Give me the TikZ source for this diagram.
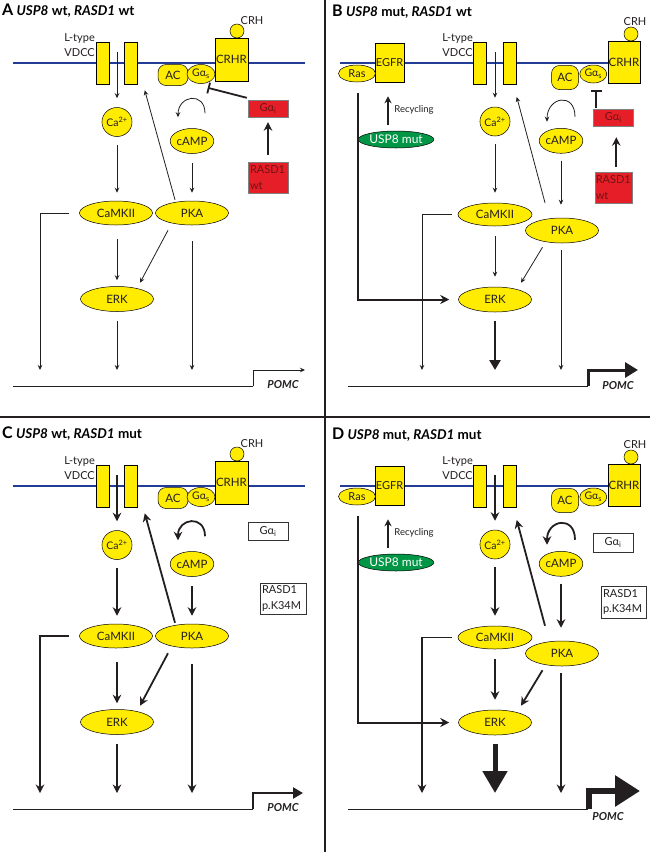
\documentclass[tikz,border=0pt]{standalone}
\usepackage{fontspec}
\setmainfont{Lato}
\usetikzlibrary{shapes.geometric,arrows.meta,calc}
\definecolor{myyellow}{RGB}{255,236,0}
\definecolor{myblue}{RGB}{35,60,150}
\definecolor{myred}{RGB}{230,30,40}
\definecolor{mygreen}{RGB}{0,150,70}
\definecolor{txt}{RGB}{35,31,32}
\definecolor{reddark}{RGB}{110,20,20}
\newcommand{\myfs}[1]{\fontsize{#1}{15.5}\selectfont}
\tikzset{
 lab/.style={text=txt, inner sep=0pt, font=\myfs{11}},
 ttl/.style={anchor=base west, inner sep=0pt, text=black, font=\myfs{13.5}\bfseries},
 ell/.style={ellipse, draw=black, line width=0.5pt, fill=myyellow, inner sep=0pt, text=txt, font=\myfs{11.5}},
 ybox/.style={rectangle, draw=black, line width=0.5pt, fill=myyellow, inner sep=0pt, text=txt, font=\myfs{11.5}},
 acbox/.style={ybox, rounded corners=8pt},
 crhball/.style={circle, draw=black, line width=0.5pt, fill=myyellow, inner sep=0pt, minimum size=14pt},
 redbox/.style={rectangle, draw=black!50, line width=0.4pt, fill=myred, text=reddark, font=\myfs{11}, inner sep=0pt},
 whitebox/.style={rectangle, draw=black!80, line width=0.5pt, fill=white, text=txt, font=\myfs{11}, inner sep=0pt},
 greenell/.style={ellipse, draw=black, line width=0.5pt, fill=mygreen, text=white, font=\myfs{12}, inner sep=0pt},
 membrane/.style={line width=2.6pt, draw=myblue},
 thinA/.style={line width=0.8pt, draw=txt, -{Stealth[length=5pt,width=4.5pt]}},
 thickC/.style={line width=1.8pt, draw=txt, -{Stealth[length=8.5pt,width=8.5pt]}},
 rasln/.style={line width=2pt, draw=txt, -{Stealth[length=9pt,width=9pt]}},
 recyc/.style={line width=1.6pt, draw=txt, -{Stealth[length=7pt,width=7pt]}},
 inhib/.style={line width=1.8pt, draw=txt, -{Bar[width=11pt]}},
 pomc/.style={font=\myfs{11}\bfseries\itshape, text=txt, inner sep=0pt},
 baseln/.style={line width=0.8pt, draw=txt},
}
\newcommand{\panelAC}[2]{%
\node[ttl] at (2,15) {#1};
\draw[membrane] (13,63) -- (305,63);
\node[ybox,minimum width=13,minimum height=42] (vl) at (103,63) {};
\node[ybox,minimum width=13,minimum height=42] (vr) at (131,63) {};
\node[lab,align=right,anchor=east] (vlab) at (95,45) {L-type\\VDCC};
\node[acbox,minimum width=30,minimum height=21] (ac) at (173,75) {AC};
\node[ell,minimum width=28,minimum height=19,font=\myfs{10.5}] (gs) at (201,74) {Gα\textsubscript{s}};
\node[ybox,minimum width=33,minimum height=43] (crhr) at (231.5,59.5) {CRHR};
\node[crhball] (crh) at (237,31) {};
\node[lab] (crhlab) at (252,21) {CRH};
\node[ell,minimum width=23,minimum height=29,font=\myfs{10.5}] (ca) at (117,122) {Ca\textsuperscript{2+}};
\node[ell,minimum width=40,minimum height=25] (camp) at (192,141) {cAMP};
\node[ell,minimum width=73,minimum height=24] (camk) at (116,213) {CaMKII};
\node[ell,minimum width=73,minimum height=24] (pka) at (192,213) {PKA};
\node[ell,minimum width=73,minimum height=25] (erk) at (117,299) {ERK};
\coordinate (p0) at (13,386);
\coordinate (p1) at (253,386);
\coordinate (p2) at (253,370);
\coordinate (q) at (40,370);
\draw[baseln] (p0) -- (p1);
\node[pomc] (pomc) at (283,385) {POMC};
\draw[#2] ($(vl)!0.5!(vr)+(0,-11)$) -- ($(ca.north)+(0,-9)$);
\draw[#2] ($(ca.south)+(0,8)$) -- ($(ca.south |- camk.north)+(0,-8)$);
\draw[#2] ($(pka.north)+(-17,-1)$) -- ($(vr.south east)+(7,6)$);
\draw[#2] ($(camp.south)+(0,9)$) -- ($(pka.north)+(0,-8)$);
\draw[#2] ($(camp.north)+(13,-15)$) .. controls +(0,-22) and +(0,-22) .. ($(camp.north)+(-14,-11)$);
\draw[#2] ($(camk.west)+(-10,0)$) -| (q);
\draw[#2] ($(erk.north |- camk.south)+(0,14)$) -- ($(erk.north)+(0,-6)$);
\draw[#2] ($(pka.south)+(-24,5)$) -- ($(erk.north)+(23,-3.5)$);
\draw[#2] ($(pka.south)+(0,16)$) -- (pka |- p2);
}
\newcommand{\panelBD}[2]{%
\node[ttl] at (332,16) {#1};
\draw[membrane] (340,63) -- (640,63);
\node[ybox,minimum width=29,minimum height=39,font=\myfs{11}] (egfr) at (389.5,62.5) {EGFR};
\node[ell,minimum width=37,minimum height=17,font=\myfs{11}] (ras) at (357,73.5) {Ras};
\node[greenell,minimum width=72,minimum height=17] (usp) at (396,139.5) {USP8 mut};
\node[lab,font=\myfs{9.5}] (rec) at (414,110) {Recycling};
\node[ybox,minimum width=13,minimum height=42] (vl) at (480,63) {};
\node[ybox,minimum width=13,minimum height=42] (vr) at (510,63) {};
\node[lab,align=right,anchor=east] (vlab) at (473,45) {L-type\\VDCC};
\node[acbox,minimum width=27,minimum height=24] (ac) at (565,77.5) {AC};
\node[ell,minimum width=27,minimum height=18,font=\myfs{10.5}] (gs) at (593.3,74) {Gα\textsubscript{s}};
\node[ybox,minimum width=32,minimum height=42] (crhr) at (624,62.5) {CRHR};
\node[crhball] (crh) at (631,34) {};
\node[lab] (crhlab) at (635,22) {CRH};
\node[ell,minimum width=24,minimum height=29,font=\myfs{10.5}] (ca) at (495,121.5) {Ca\textsuperscript{2+}};
\node[ell,minimum width=41,minimum height=25] (camp) at (561,140.8) {cAMP};
\node[ell,minimum width=74,minimum height=23] (camk) at (495,214.5) {CaMKII};
\node[ell,minimum width=73,minimum height=25] (pka) at (562,230.5) {PKA};
\node[ell,minimum width=73,minimum height=25] (erk) at (495,299.5) {ERK};
\coordinate (p0) at (348,386);
\coordinate (p1) at (588,386);
\coordinate (p2) at (588,370);
\coordinate (q) at (422,370);
\draw[baseln] (p0) -- (p1);
\draw[recyc] ($(usp.north)+(-8,-6)$) -- ($(egfr.south)+(-1.5,14)$);
\draw[#2] ($(vl)!0.5!(vr)+(0,-11)$) -- ($(ca.north)+(0,-9)$);
\draw[#2] ($(ca.south)+(0,8)$) -- ($(camk.north)+(0,-10)$);
\draw[#2] ($(pka.north)+(-17,-15)$) -- ($(vr.south east)+(0,12.7)$);
\draw[#2] ($(camp.south)+(0,7)$) -- ($(camp.south |- pka.north)+(0,-13)$);
\draw[#2] ($(camp.north)+(14,-11.3)$) .. controls +(0,-25) and +(0,-25) .. ($(camp.north)+(-14,-6.3)$);
\draw[#2] ($(camk.west)+(-6,0)$) -| (q);
\draw[#2] ($(camk.south)+(0,10)$) -- ($(erk.north)+(0,-10)$);
\draw[#2] ($(pka.south)+(-19.5,4)$) -- ($(erk.north)+(26,-4)$);
\draw[#2] ($(pka.south)+(-1,7)$) -- ($(pka.south |- p2)+(-1,0)$);
\draw[rasln] ($(ras.south)+(1,11)$) |- ($(erk.west)+(-9,0)$);
}
\begin{document}
\begin{tikzpicture}[x=1pt,y=-1pt]
\useasboundingbox (0,0) rectangle (650,852);
\fill[white] (0,0) rectangle (650,852);
% Panel A
\begin{scope}[name prefix=a-]
\panelAC{{\myfs{16}A} \textit{USP8} wt, \textit{RASD1} wt}{thinA}
\node[redbox,minimum width=40,minimum height=17] (gai) at (268,108.5) {Gα\textsubscript{i}};
\node[redbox,minimum height=31,text width=36,inner xsep=2,align=left] (rasd) at (268,177.5) {RASD1\\wt};
\draw[thickC] ($(rasd.north)+(0,-7)$) -- ($(gai.south)+(0,5)$);
\draw[inhib] ($(gai.north west)+(-1,-2)$) -- ($(gai.north west)+(-40,-12)$);
\draw[thinA] ($(erk.south)+(0,9)$) -- (erk |- p2);
\draw[line width=0.8pt, draw=txt, line join=miter, -{Stealth[length=5pt,width=4.5pt]}] (p1) -- (p2) -- ++(52,0);
\end{scope}
% Panel B
\begin{scope}[name prefix=b-]
\panelBD{{\myfs{16}B} \textit{USP8} mut, \textit{RASD1} wt}{thinA}
\node[pomc] (pomc) at (618,386) {POMC};
\node[redbox,minimum width=40,minimum height=17] (gai) at (613.3,117.5) {Gα\textsubscript{i}};
\node[redbox,minimum height=31,text width=35,inner xsep=1,align=left] (rasd) at (613.3,187.8) {RASD1\\wt};
\draw[inhib] ($(gai.north west)+(3,-1)$) -- ($(gai.north west)+(3,-19)$);
\draw[thickC] ($(rasd.north)+(3,-5)$) -- ($(gai.south)+(3,11)$);
\draw[line width=2.4pt, draw=txt, -{Triangle[length=10pt,width=11pt]}] ($(erk.south)+(0,9)$) -- (erk |- p2);
\draw[line width=3pt, draw=txt, line join=miter, -{Triangle[length=13pt,width=15pt]}] (p1) -- (p2) -- ++(50,0);
\end{scope}
% Panel C
\begin{scope}[shift={(0,423)}, name prefix=c-]
\panelAC{{\myfs{16}C} \textit{USP8} wt, \textit{RASD1} mut}{thickC}
\node[whitebox,minimum width=40,minimum height=18] (gai) at (268,108.5) {Gα\textsubscript{i}};
\node[whitebox,minimum height=31,text width=42,inner xsep=2,align=left] (rasd) at (283,175.5) {RASD1\\p.K34M};
\draw[thickC] ($(erk.south)+(0,9)$) -- (erk |- p2);
\draw[line width=2.4pt, draw=txt, line join=miter, -{Triangle[length=10pt,width=11pt]}] (p1) -- (p2) -- ++(50,0);
\end{scope}
% Panel D
\begin{scope}[shift={(0,423)}, name prefix=d-]
\panelBD{{\myfs{16}D} \textit{USP8} mut, \textit{RASD1} mut}{thickC}
\node[pomc] (pomc) at (608,393.5) {POMC};
\node[whitebox,minimum width=40,minimum height=19] (gai) at (613,119.5) {Gα\textsubscript{i}};
\node[whitebox,minimum height=32,text width=41,inner xsep=2,align=left] (rasd) at (623.5,179) {RASD1\\p.K34M};
\draw[line width=5pt, draw=txt, -{Triangle[length=22pt,width=24pt]}] ($(erk.south)+(0,9)$) -- (erk |- p2);
\draw[line width=6pt, draw=txt, line join=miter, -{Triangle[length=25pt,width=30pt]}] ($(p1)+(1,0)$) -- ++(0,-18) -- ++(51,0);
\end{scope}
% dividers
\coordinate (dvt) at (325,0);
\coordinate (dvb) at (325,852);
\coordinate (dhl) at (0,417);
\coordinate (dhr) at (650,417);
\draw[line width=2.4pt, draw=txt] (dvt) -- (dvb);
\draw[line width=2.2pt, draw=txt] (dhl) -- (dhr);
\end{tikzpicture}
\end{document}
